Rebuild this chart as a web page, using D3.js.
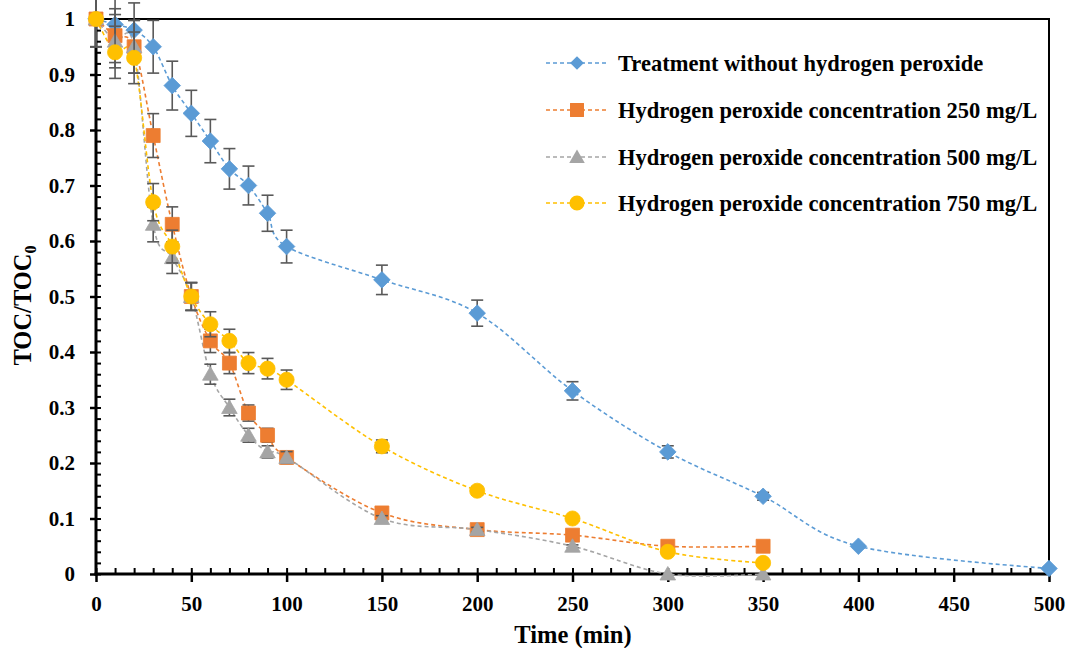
<!DOCTYPE html>
<html>
<head>
<meta charset="utf-8">
<script src="https://cdn.jsdelivr.net/npm/d3@7"></script>
<style>
  html, body { margin: 0; padding: 0; background: #fff; }
  svg { display: block; }
  text { font-family: "Liberation Serif", "Times New Roman", serif; font-weight: bold; fill: #000; }
</style>
</head>
<body>
<svg id="chart" width="1071" height="648"></svg>
<script>
// Sampling times (min) for each run
const timeNoH2O2 = [0, 10, 20, 30, 40, 50, 60, 70, 80, 90, 100, 150, 200, 250, 300, 350, 400, 500];
const timeH2O2 = [0, 10, 20, 30, 40, 50, 60, 70, 80, 90, 100, 150, 200, 250, 300, 350];

// Normalised TOC (TOC/TOC0) for each run
const tocNoH2O2 = [1, 0.99, 0.98, 0.95, 0.88, 0.83, 0.78, 0.73, 0.70, 0.65, 0.59, 0.53, 0.47, 0.33, 0.22, 0.14, 0.05, 0.01];
const toc250 = [1, 0.97, 0.95, 0.79, 0.63, 0.50, 0.42, 0.38, 0.29, 0.25, 0.21, 0.11, 0.08, 0.07, 0.05, 0.05];
const toc500 = [1, 0.96, 0.95, 0.63, 0.57, 0.50, 0.36, 0.30, 0.25, 0.22, 0.21, 0.10, 0.08, 0.05, 0.00, 0.00];
const toc750 = [1, 0.94, 0.93, 0.67, 0.59, 0.50, 0.45, 0.42, 0.38, 0.37, 0.35, 0.23, 0.15, 0.10, 0.04, 0.02];

// Error bars are ±5 % of each value
const errorFraction = 0.05;

const seriesNames = [
  "Treatment without hydrogen peroxide",
  "Hydrogen peroxide concentration 250 mg/L",
  "Hydrogen peroxide concentration 500 mg/L",
  "Hydrogen peroxide concentration 750 mg/L"
];

const xTickValues = [0, 50, 100, 150, 200, 250, 300, 350, 400, 450, 500];
const xTickLabels = ["0", "50", "100", "150", "200", "250", "300", "350", "400", "450", "500"];
const yTickValues = [0, 0.1, 0.2, 0.3, 0.4, 0.5, 0.6, 0.7, 0.8, 0.9, 1];
const yTickLabels = ["0", "0.1", "0.2", "0.3", "0.4", "0.5", "0.6", "0.7", "0.8", "0.9", "1"];

const xTitle = "Time (min)";

// ---- layout ----
const svg = d3.select("#chart");
const plotLeft = 96, plotRight = 1049, plotTop = 19, plotBottom = 574;

const x = d3.scaleLinear().domain([0, 500]).range([plotLeft, plotRight]);
const y = d3.scaleLinear().domain([0, 1]).range([plotBottom, plotTop]);

const series = [
  { name: seriesNames[0], t: timeNoH2O2, v: tocNoH2O2, color: "#5B9BD5", marker: "diamond" },
  { name: seriesNames[1], t: timeH2O2, v: toc250, color: "#ED7D31", marker: "square" },
  { name: seriesNames[2], t: timeH2O2, v: toc500, color: "#A5A5A5", marker: "triangle" },
  { name: seriesNames[3], t: timeH2O2, v: toc750, color: "#FFC000", marker: "circle" }
];

const symbolFor = {
  diamond: d3.symbol().type(d3.symbolDiamond2).size(175),
  square: d3.symbol().type(d3.symbolSquare).size(195),
  triangle: d3.symbol().type(d3.symbolTriangle).size(105),
  circle: d3.symbol().type(d3.symbolCircle).size(180)
};

// ---- frame (top and right borders) ----
svg.append("line").attr("x1", plotLeft).attr("x2", plotRight + 1).attr("y1", plotTop).attr("y2", plotTop)
  .attr("stroke", "#000").attr("stroke-width", 2);
svg.append("line").attr("x1", plotRight).attr("x2", plotRight).attr("y1", plotTop).attr("y2", plotBottom)
  .attr("stroke", "#000").attr("stroke-width", 2);

// ---- axes ----
const minorX = d3.range(0, 501, 10);
const minorY = d3.range(0, 51).map(i => i / 50);

// inner minor ticks
svg.append("g").attr("transform", `translate(0,${plotBottom})`)
  .call(d3.axisBottom(x).tickValues(minorX).tickSize(-6).tickFormat(""))
  .call(g => g.select(".domain").remove())
  .selectAll("line").attr("stroke", "#000").attr("stroke-width", 2);
svg.append("g").attr("transform", `translate(${plotLeft},0)`)
  .call(d3.axisLeft(y).tickValues(minorY).tickSize(-5).tickFormat(""))
  .call(g => g.select(".domain").remove())
  .selectAll("line").attr("stroke", "#000").attr("stroke-width", 2);

// outer major ticks with labels
const xAxis = svg.append("g").attr("transform", `translate(0,${plotBottom})`)
  .call(d3.axisBottom(x).tickValues(xTickValues).tickSize(8).tickPadding(14)
    .tickFormat((d, i) => xTickLabels[i]));
xAxis.select(".domain").remove();
xAxis.selectAll("line").attr("stroke", "#000").attr("stroke-width", 2.5);
xAxis.selectAll("text").attr("font-size", 21).attr("font-family", "Liberation Serif").attr("fill", "#000");

const yAxis = svg.append("g").attr("transform", `translate(${plotLeft},0)`)
  .call(d3.axisLeft(y).tickValues(yTickValues).tickSize(6).tickPadding(15)
    .tickFormat((d, i) => yTickLabels[i]));
yAxis.select(".domain").remove();
yAxis.selectAll("line").attr("stroke", "#000").attr("stroke-width", 2.5);
yAxis.selectAll("text").attr("font-size", 21).attr("font-family", "Liberation Serif").attr("fill", "#000");

// axis lines
svg.append("line").attr("x1", plotLeft).attr("x2", plotLeft).attr("y1", plotTop - 1).attr("y2", plotBottom + 1.5)
  .attr("stroke", "#000").attr("stroke-width", 3);
svg.append("line").attr("x1", plotLeft - 1.5).attr("x2", plotRight + 1).attr("y1", plotBottom).attr("y2", plotBottom)
  .attr("stroke", "#000").attr("stroke-width", 3);

// ---- axis titles ----
svg.append("text").attr("x", 573).attr("y", 643)
  .attr("text-anchor", "middle").attr("font-size", 24.5).text(xTitle);

const yTitle = svg.append("text")
  .attr("transform", `translate(31,${(plotTop + plotBottom) / 2 + 9}) rotate(-90)`)
  .attr("text-anchor", "middle").attr("font-size", 24.5);
yTitle.append("tspan").text("TOC/TOC");
yTitle.append("tspan").attr("font-size", 16).attr("dy", 5).text("0");

// ---- series lines ----
const line = d3.line().curve(d3.curveCardinal.tension(0))
  .x(d => x(d[0])).y(d => y(d[1]));

const plot = svg.append("g");
series.forEach(s => {
  const pts = s.t.map((t, i) => [t, s.v[i]]);
  plot.append("path").datum(pts)
    .attr("d", line)
    .attr("fill", "none")
    .attr("stroke", s.color)
    .attr("stroke-width", 1.6)
    .attr("stroke-dasharray", "4,3");
});

// ---- error bars and markers ----
series.forEach(s => {
  const pts = s.t.map((t, i) => ({ t, v: s.v[i], e: s.v[i] * errorFraction }));
  const eb = plot.append("g").attr("stroke", "#595959").attr("stroke-width", 1.6);
  pts.filter(p => p.e > 0).forEach(p => {
    const cx = x(p.t), y1 = y(p.v + p.e), y2 = y(p.v - p.e);
    eb.append("line").attr("x1", cx).attr("x2", cx).attr("y1", y1).attr("y2", y2);
    eb.append("line").attr("x1", cx - 6).attr("x2", cx + 6).attr("y1", y1).attr("y2", y1);
    eb.append("line").attr("x1", cx - 6).attr("x2", cx + 6).attr("y1", y2).attr("y2", y2);
  });
  plot.append("g").selectAll("path").data(pts).join("path")
    .attr("transform", p => `translate(${x(p.t)},${y(p.v) + (s.marker === "triangle" ? 1.5 : 0)})`)
    .attr("d", symbolFor[s.marker])
    .attr("fill", s.color)
    .attr("stroke", s.color)
    .attr("stroke-width", 0.8);
});

// ---- legend ----
const legendRows = [63, 110, 157, 203];
const legend = svg.append("g");
series.forEach((s, i) => {
  const ly = legendRows[i];
  legend.append("line").attr("x1", 546).attr("x2", 608).attr("y1", ly).attr("y2", ly)
    .attr("stroke", s.color).attr("stroke-width", 1.6).attr("stroke-dasharray", "4,3");
  legend.append("path")
    .attr("transform", `translate(577,${ly + (s.marker === "triangle" ? 1.5 : 0)})`)
    .attr("d", s.marker === "diamond" ? d3.symbol().type(d3.symbolDiamond2).size(120)() : symbolFor[s.marker]())
    .attr("fill", s.color);
  legend.append("text").attr("x", 618).attr("y", ly + 7.5).attr("font-size", 22.5).text(s.name);
});
</script>
</body>
</html>
